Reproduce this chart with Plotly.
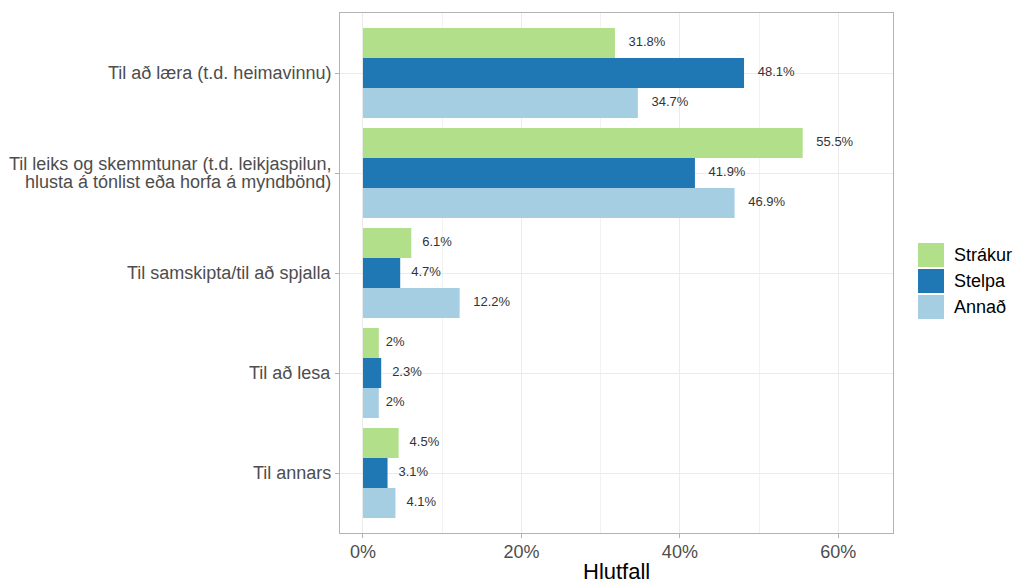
import plotly.graph_objects as go

categories = [
    "Til að læra (t.d. heimavinnu)",
    "Til leiks og skemmtunar (t.d. leikjaspilun,\nhlusta á tónlist eða horfa á myndbönd)",
    "Til samskipta/til að spjalla",
    "Til að lesa",
    "Til annars",
]
series_names = ["Strákur", "Stelpa", "Annað"]
strakur = [31.8, 55.5, 6.1, 2.0, 4.5]
stelpa = [48.1, 41.9, 4.7, 2.3, 3.1]
annad = [34.7, 46.9, 12.2, 2.0, 4.1]
colors = ["#B2DF8A", "#1F78B4", "#A6CEE3"]
x_ticks = [0, 20, 40, 60]
x_tick_labels = ["0%", "20%", "40%", "60%"]

series_values = [strakur, stelpa, annad]

FONT = "Liberation Sans, Arial, sans-serif"
W, H = 1014, 583
ml, mr, mt, mb = 340, 121, 13, 50
pw, ph = W - ml - mr, H - mt - mb
x_range = [-2.9, 66.9]
px_per_unit = pw / (x_range[1] - x_range[0])

LABEL_FONT = 13
TICK_FONT = 18
char_w = {"%": 0.889, ".": 0.278}


def text_width(s):
    return sum(char_w.get(c, 0.556) for c in s) * LABEL_FONT


idx = list(range(len(categories)))
bar_w = 0.3
offsets = [-bar_w, 0.0, bar_w]

fig = go.Figure()
for name, vals, col, off in zip(series_names, series_values, colors, offsets):
    fig.add_trace(go.Bar(
        x=vals, y=[i + off for i in idx], orientation="h", width=bar_w,
        marker=dict(color=col, line=dict(width=0)), name=name, showlegend=False,
        hoverinfo="x+name",
    ))
for name, vals, off in zip(series_names, series_values, offsets):
    labels = [f"{v:g}%" for v in vals]
    xs = [v + (0.37 * text_width(t) + text_width(t) / 2) / px_per_unit for v, t in zip(vals, labels)]
    fig.add_trace(go.Scatter(
        x=xs, y=[i + off for i in idx], mode="text", text=labels,
        textposition="middle center",
        textfont=dict(size=LABEL_FONT, color="#333333", family=FONT),
        showlegend=False, hoverinfo="skip", cliponaxis=False,
    ))

# y tick labels as text annotations (ggplot-like tighter line spacing)
line_gap = 18.5
for i, cat in zip(idx, categories):
    lines = cat.split("\n")
    n = len(lines)
    for j, ln in enumerate(lines):
        fig.add_annotation(
            xref="paper", yref="y", x=0, y=i, xshift=-7,
            yshift=((n - 1) / 2 - j) * line_gap,
            text=ln, showarrow=False, xanchor="right", yanchor="middle",
            font=dict(size=TICK_FONT, color="#4D4D4D", family=FONT),
        )

# x-axis title
fig.add_annotation(xref="paper", yref="paper", x=0.5, y=0, yshift=-38,
                   text="Hlutfall", showarrow=False, xanchor="center", yanchor="middle",
                   font=dict(size=22, color="#000000", family=FONT))

# custom legend (ggplot style keys)
key = 26
leg_x0 = 918
leg_y0 = 242
for k, (name, col) in enumerate(zip(series_names, colors)):
    y0 = leg_y0 + k * key
    fig.add_shape(type="rect", xref="paper", yref="paper",
                  x0=(leg_x0 - ml) / pw, x1=(leg_x0 + key - ml) / pw,
                  y0=(H - mb - (y0 + key - 1)) / ph, y1=(H - mb - (y0 + 1)) / ph,
                  fillcolor=col, line=dict(width=0))
    fig.add_annotation(xref="paper", yref="paper",
                       x=(leg_x0 + key + 8 - ml) / pw,
                       y=(H - mb - (y0 + key / 2)) / ph,
                       text=name, showarrow=False, xanchor="left", yanchor="middle",
                       font=dict(size=TICK_FONT, color="#000000", family=FONT))

fig.update_layout(
    width=W, height=H,
    margin=dict(l=ml, r=mr, t=mt, b=mb, autoexpand=False),
    paper_bgcolor="white", plot_bgcolor="white",
    barmode="overlay",
    font=dict(family=FONT),
    showlegend=False,
    xaxis=dict(
        range=x_range, tickvals=x_ticks, ticktext=x_tick_labels,
        showgrid=True, gridcolor="#EBEBEB", gridwidth=1,
        minor=dict(showgrid=True, gridcolor="#F2F2F2", gridwidth=1, dtick=10, tick0=10),
        zeroline=False, showline=True, linecolor="#B3B3B3", linewidth=1, mirror=True,
        ticks="outside", ticklen=4, tickcolor="#B3B3B3", tickwidth=1,
        tickfont=dict(size=TICK_FONT, color="#4D4D4D"),
        ticklabelstandoff=-2, automargin=False,
    ),
    yaxis=dict(
        range=[len(categories) - 0.4, -0.6], tickvals=idx, ticktext=[""] * len(idx),
        showgrid=True, gridcolor="#EBEBEB", gridwidth=1,
        zeroline=False, showline=True, linecolor="#B3B3B3", linewidth=1, mirror=True,
        ticks="outside", ticklen=4, tickcolor="#B3B3B3", tickwidth=1, automargin=False,
    ),
)

fig.write_html("out.html", post_script="document.body.style.margin='0';",
               config={"displayModeBar": False})
